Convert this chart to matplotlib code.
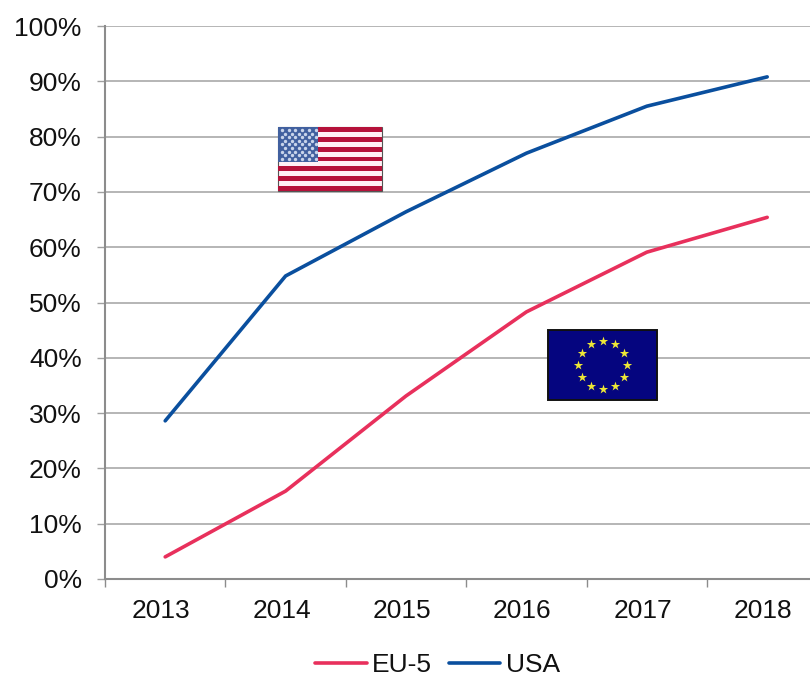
import numpy as np
import matplotlib
matplotlib.use("Agg")
import matplotlib.pyplot as plt
from matplotlib.patches import Rectangle
from matplotlib.transforms import ScaledTranslation

years = ['2013', '2014', '2015', '2016', '2017', '2018']
eu5 = [4.0, 15.9, 33.1, 48.3, 59.1, 65.4]
usa = [28.6, 54.8, 66.4, 77.0, 85.5, 90.8]
y_ticks = [0, 10, 20, 30, 40, 50, 60, 70, 80, 90, 100]

W, H = 810, 674
plt.rcParams['font.family'] = ['Liberation Sans', 'DejaVu Sans']

fig = plt.figure(figsize=(W / 100, H / 100), dpi=100)

# axes run past the right edge of the picture, same as the original crop
ax = fig.add_axes([105 / W, 1 - 579 / H, 722.4 / W, 553 / H])
x = np.arange(len(years))
ax.plot(x, eu5, color='#e8305c', lw=2.6, label='EU-5', solid_capstyle='round', zorder=3)
ax.plot(x, usa, color='#0a4f9e', lw=2.6, label='USA', solid_capstyle='round', zorder=3)

ax.set_xlim(-0.5, 5.5)
ax.set_ylim(0, 100)
ax.set_yticks(y_ticks)
ax.set_yticklabels([f'{v}%' for v in y_ticks])
ax.set_xticks(np.arange(-0.5, 5.5, 1))
ax.set_xticklabels([])
ax.set_xticks(x, minor=True)
ax.set_xticklabels(years, minor=True)
ax.tick_params(axis='x', which='major', length=5.8, width=1, color='#8c8c8c')
ax.tick_params(axis='x', which='minor', length=0, labelsize=19, pad=14.5, labelcolor='#111111')
ax.tick_params(axis='y', length=5.8, width=1, color='#a0a0a0', labelsize=19, pad=11, labelcolor='#111111')
ax.grid(axis='y', color='#b0b0b0', lw=1.3, zorder=0)
ax.set_axisbelow(True)
for s in ['top', 'right']:
    ax.spines[s].set_visible(False)
for s in ['left', 'bottom']:
    ax.spines[s].set_color('#8c8c8c')
    ax.spines[s].set_linewidth(1.5)

# year labels sit a little left of the category centre in the original
shift = ScaledTranslation(-4 / 100, 0, fig.dpi_scale_trans)
for lab in ax.get_xticklabels(minor=True):
    lab.set_transform(lab.get_transform() + shift)

# overlay in pixel coordinates for the two flags
ov = fig.add_axes([0, 0, 1, 1], facecolor='none')
ov.set_xlim(0, W)
ov.set_ylim(H, 0)
ov.axis('off')

# US flag
ov.add_patch(Rectangle((278, 127), 104, 64, fc='#fff0f5', ec='#555555', lw=0.8, zorder=4))
stripe_h = 64 / 13
for i in range(0, 13, 2):
    ov.add_patch(Rectangle((278, 127 + i * stripe_h), 104, stripe_h, fc='#b5123a', ec='none', zorder=5))
ov.add_patch(Rectangle((278, 127), 40, 35, fc='#41609f', ec='none', zorder=6))
sx, sy = [], []
for row in range(9):
    n = 6 if row % 2 == 0 else 5
    off = 0 if row % 2 == 0 else 3.3
    for c in range(n):
        sx.append(282 + off + c * 6.7)
        sy.append(130 + row * 3.6)
ov.scatter(sx, sy, s=6, color='#c8d4ea', linewidths=0, zorder=7)

# EU flag
ov.add_patch(Rectangle((548, 330), 109, 69.5, fc='#05057f', ec='#111111', lw=1.4, zorder=4))
ang = np.deg2rad(np.arange(0, 360, 30))
ov.scatter(602.7 + 24.3 * np.sin(ang), 365 - 24.3 * np.cos(ang), marker='*', s=50,
           color='#eee836', linewidths=0, zorder=5)

fig.legend(*ax.get_legend_handles_labels(), loc='center', ncol=2, frameon=False,
           bbox_to_anchor=(437.5 / W, 1 - 665 / H), fontsize=19, handlelength=1.95,
           handletextpad=0.2, columnspacing=0.65, labelcolor='#111111',
           borderpad=0, borderaxespad=0)

fig.savefig('out.png', dpi=100, facecolor='white')
